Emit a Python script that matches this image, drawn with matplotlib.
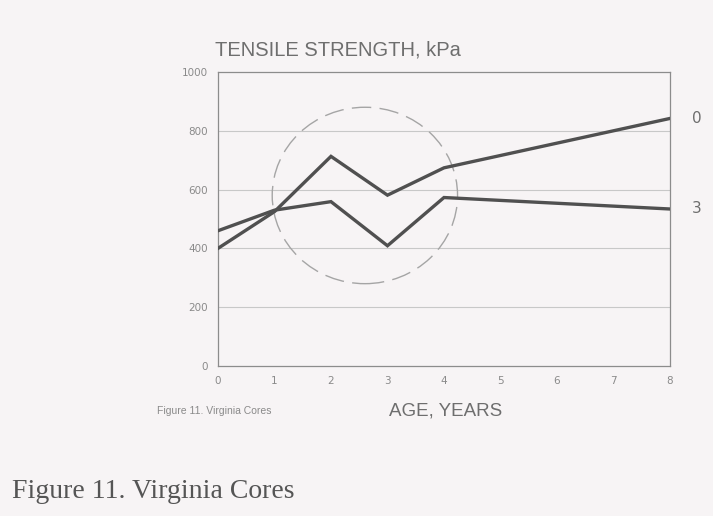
import matplotlib
matplotlib.use("Agg")
import matplotlib.pyplot as plt
from matplotlib.patches import Ellipse

# Data
ages = [0, 1, 2, 3, 4, 8]
series_0 = [400, 525, 713, 581, 674, 842]
series_3 = [460, 530, 559, 409, 573, 534]
series_labels = ["0", "3"]
yticks = [0, 200, 400, 600, 800, 1000]
xticks = [0, 1, 2, 3, 4, 5, 6, 7, 8]

bg = "#f7f4f5"
ink = "#505050"
txt = "#6e6e6e"

fig = plt.figure(figsize=(7.13, 5.16), dpi=100, facecolor=bg)
ax = fig.add_axes([0.3057, 0.2907, 0.634, 0.5698])
ax.set_facecolor(bg)

ax.set_xlim(0, 8)
ax.set_ylim(0, 1000)
ax.set_xticks(xticks)
ax.set_yticks(yticks)
ax.tick_params(axis="both", length=0, labelsize=7.5, colors="#8a8a8a", pad=7)
for s in ax.spines.values():
    s.set_color("#8c8c8c")
    s.set_linewidth(0.9)
for y in yticks[1:-1]:
    ax.axhline(y, color="#c8c8c8", lw=0.8, zorder=1)

for vals, lab in zip([series_0, series_3], series_labels):
    ax.plot(ages, vals, color=ink, lw=2.4, solid_joinstyle="miter", zorder=3)
    ax.annotate(lab, xy=(ages[-1], vals[-1]), xytext=(16, 0), textcoords="offset points",
                va="center", ha="left", fontsize=11, color=txt, annotation_clip=False)

# faint hand-drawn circle (scan artifact)
circ = Ellipse((0.325, 0.58), 0.41, 0.60, transform=ax.transAxes, fill=False,
               edgecolor="#a5a5a5", lw=1.0, ls=(0, (14, 6)), zorder=2)
ax.add_patch(circ)

fig.text(215 / 713, 1 - 50 / 516, "TENSILE STRENGTH, kPa", fontsize=14.5, color=txt,
         ha="left", va="center", family="Liberation Sans")
fig.text(446 / 713, 1 - 411 / 516, "AGE, YEARS", fontsize=13.5, color=txt,
         ha="center", va="center", family="Liberation Sans")
fig.text(157 / 713, 1 - 411 / 516, "Figure 11. Virginia Cores", fontsize=7.5, color="#8a8a8a",
         ha="left", va="center", family="Liberation Sans")
fig.text(12 / 713, 1 - 492 / 516, "Figure 11. Virginia Cores", fontsize=20, color="#555555",
         ha="left", va="center", family="Liberation Serif")

fig.savefig("out.png", dpi=100, facecolor=bg)
